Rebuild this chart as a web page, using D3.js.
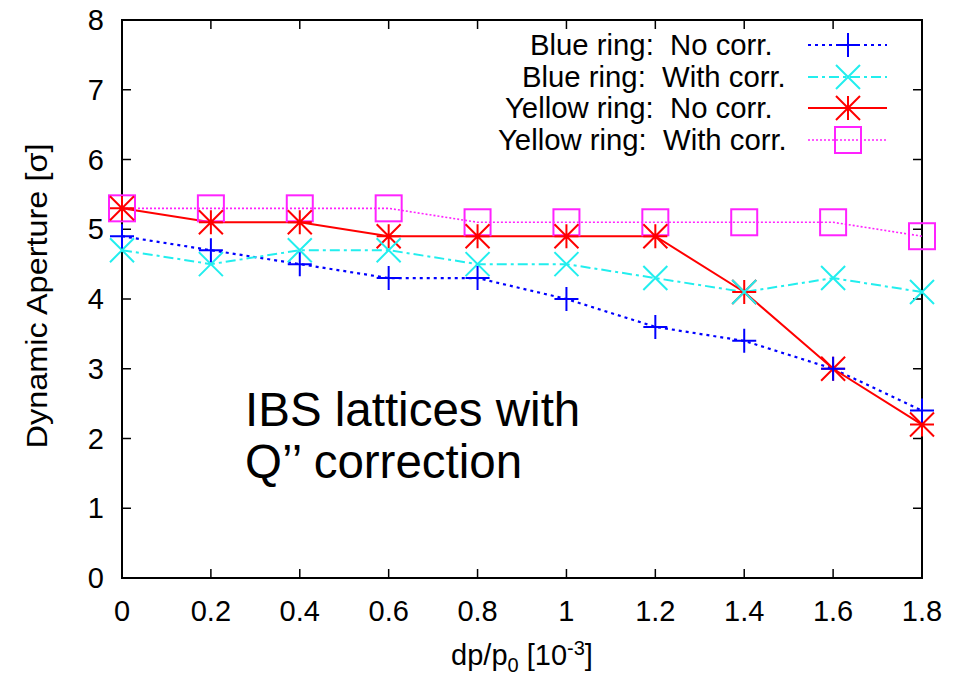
<!DOCTYPE html>
<html><head><meta charset="utf-8">
<script src="https://cdn.jsdelivr.net/npm/d3@7"></script>
<style>body{margin:0;background:#fff}svg{display:block}text{font-family:"Liberation Sans",Arial,sans-serif;white-space:pre}</style>
</head><body>
<svg id="c" width="965" height="678"></svg>
<script>
const xValues = [0, 0.2, 0.4, 0.6, 0.8, 1.0, 1.2, 1.4, 1.6, 1.8];
const blueNoCorr = [4.9, 4.7, 4.5, 4.3, 4.3, 4.0, 3.6, 3.4, 3.0, 2.4];
const blueWithCorr = [4.7, 4.5, 4.7, 4.7, 4.5, 4.5, 4.3, 4.1, 4.3, 4.1];
const yellowNoCorr = [5.3, 5.1, 5.1, 4.9, 4.9, 4.9, 4.9, 4.1, 3.0, 2.2];
const yellowWithCorr = [5.3, 5.3, 5.3, 5.3, 5.1, 5.1, 5.1, 5.1, 5.1, 4.9];
const xTicks = [0, 0.2, 0.4, 0.6, 0.8, 1, 1.2, 1.4, 1.6, 1.8];
const yTicks = [0, 1, 2, 3, 4, 5, 6, 7, 8];
const seriesNames = ["Blue ring:  No corr.", "Blue ring:  With corr.", "Yellow ring:  No corr.", "Yellow ring:  With corr."];

const series = [
  {name: seriesNames[0], values: blueNoCorr, color: "#0000ff", dash: "3,4", width: 2.2, marker: "plus"},
  {name: seriesNames[1], values: blueWithCorr, color: "#22eeee", dash: "10,4,3,4", width: 2, marker: "x"},
  {name: seriesNames[2], values: yellowNoCorr, color: "#ff0000", dash: null, width: 2, marker: "star"},
  {name: seriesNames[3], values: yellowWithCorr, color: "#ff22ff", dash: "2,2", width: 1.6, marker: "square"}
];

const L = 122, R = 922, T = 20, B = 578;
const x = d3.scaleLinear().domain([0, 1.8]).range([L, R]);
const y = d3.scaleLinear().domain([0, 8]).range([B, T]);
const svg = d3.select("#c");

// ticks (inward, mirrored)
const tl = 9;
const g = svg.append("g");
xTicks.forEach(t => {
  g.append("line").attr("x1", x(t)).attr("x2", x(t)).attr("y1", B).attr("y2", B - tl).attr("stroke", "#000").attr("stroke-width", 1.5);
  g.append("line").attr("x1", x(t)).attr("x2", x(t)).attr("y1", T).attr("y2", T + tl).attr("stroke", "#000").attr("stroke-width", 1.5);
  g.append("text").attr("x", x(t)).attr("y", 621).attr("text-anchor", "middle").attr("font-size", 29).text(d3.format("~g")(t));
});
yTicks.forEach(t => {
  g.append("line").attr("x1", L).attr("x2", L + tl).attr("y1", y(t)).attr("y2", y(t)).attr("stroke", "#000").attr("stroke-width", 1.5);
  g.append("line").attr("x1", R).attr("x2", R - tl).attr("y1", y(t)).attr("y2", y(t)).attr("stroke", "#000").attr("stroke-width", 1.5);
  g.append("text").attr("x", 104).attr("y", y(t) + 10).attr("text-anchor", "end").attr("font-size", 29).text(t);
});
svg.append("rect").attr("x", L).attr("y", T).attr("width", R - L).attr("height", B - T).attr("fill", "none").attr("stroke", "#000").attr("stroke-width", 2);

// axis labels
const xl = svg.append("text").attr("x", 522).attr("y", 665).attr("text-anchor", "middle").attr("font-size", 29);
xl.append("tspan").text("dp/p");
xl.append("tspan").attr("font-size", 20).attr("dy", 7).text("0");
xl.append("tspan").attr("dy", -7).text(" [10");
xl.append("tspan").attr("font-size", 20).attr("dy", -10).text("-3");
xl.append("tspan").attr("dy", 10).text("]");
svg.append("text").attr("transform", "translate(47,296) rotate(-90)").attr("text-anchor", "middle").attr("font-size", 30)
  .attr("textLength", 305).attr("lengthAdjust", "spacingAndGlyphs").text("Dynamic Aperture [σ]");

function marker(sel, type, cx, cy, color) {
  const s = 12;
  const gm = sel.append("g").attr("stroke", color).attr("stroke-width", 2).attr("fill", "none");
  if (type === "plus") {
    gm.append("path").attr("d", `M${cx - s},${cy}H${cx + s}M${cx},${cy - s}V${cy + s}`);
  } else if (type === "x") {
    gm.append("path").attr("d", `M${cx - s},${cy - s}L${cx + s},${cy + s}M${cx - s},${cy + s}L${cx + s},${cy - s}`);
  } else if (type === "star") {
    gm.append("path").attr("d", `M${cx - s},${cy}H${cx + s}M${cx},${cy - s}V${cy + s}M${cx - s},${cy - s}L${cx + s},${cy + s}M${cx - s},${cy + s}L${cx + s},${cy - s}`);
  } else if (type === "square") {
    gm.append("rect").attr("x", cx - 13).attr("y", cy - 13).attr("width", 26).attr("height", 26);
  }
}

const line = d3.line().x((d, i) => x(xValues[i])).y(d => y(d));
const plot = svg.append("g");
series.forEach(s => {
  plot.append("path").datum(s.values).attr("d", line).attr("fill", "none")
    .attr("stroke", s.color).attr("stroke-width", s.width).attr("stroke-dasharray", s.dash);
});
series.slice().reverse().forEach(s => {
  s.values.forEach((v, i) => marker(plot, s.marker, x(xValues[i]), y(v), s.color));
});

// legend (text left edges as in the reference layout)
const legY = [45, 77, 108, 140];
const legTextX = [530, 522, 505, 498];
series.forEach((s, i) => {
  svg.append("text").attr("x", legTextX[i]).attr("y", legY[i] + 10).attr("font-size", 29.3)
    .attr("xml:space", "preserve").text(s.name);
  svg.append("line").attr("x1", 808).attr("x2", 887).attr("y1", legY[i]).attr("y2", legY[i])
    .attr("stroke", s.color).attr("stroke-width", s.width).attr("stroke-dasharray", s.dash);
  marker(svg, s.marker, 848, legY[i], s.color);
});

// annotation
svg.append("text").attr("x", 245).attr("y", 426).attr("font-size", 47.5).text("IBS lattices with");
svg.append("text").attr("x", 245).attr("y", 478).attr("font-size", 47.5).text("Q’’ correction");
</script>
</body></html>
